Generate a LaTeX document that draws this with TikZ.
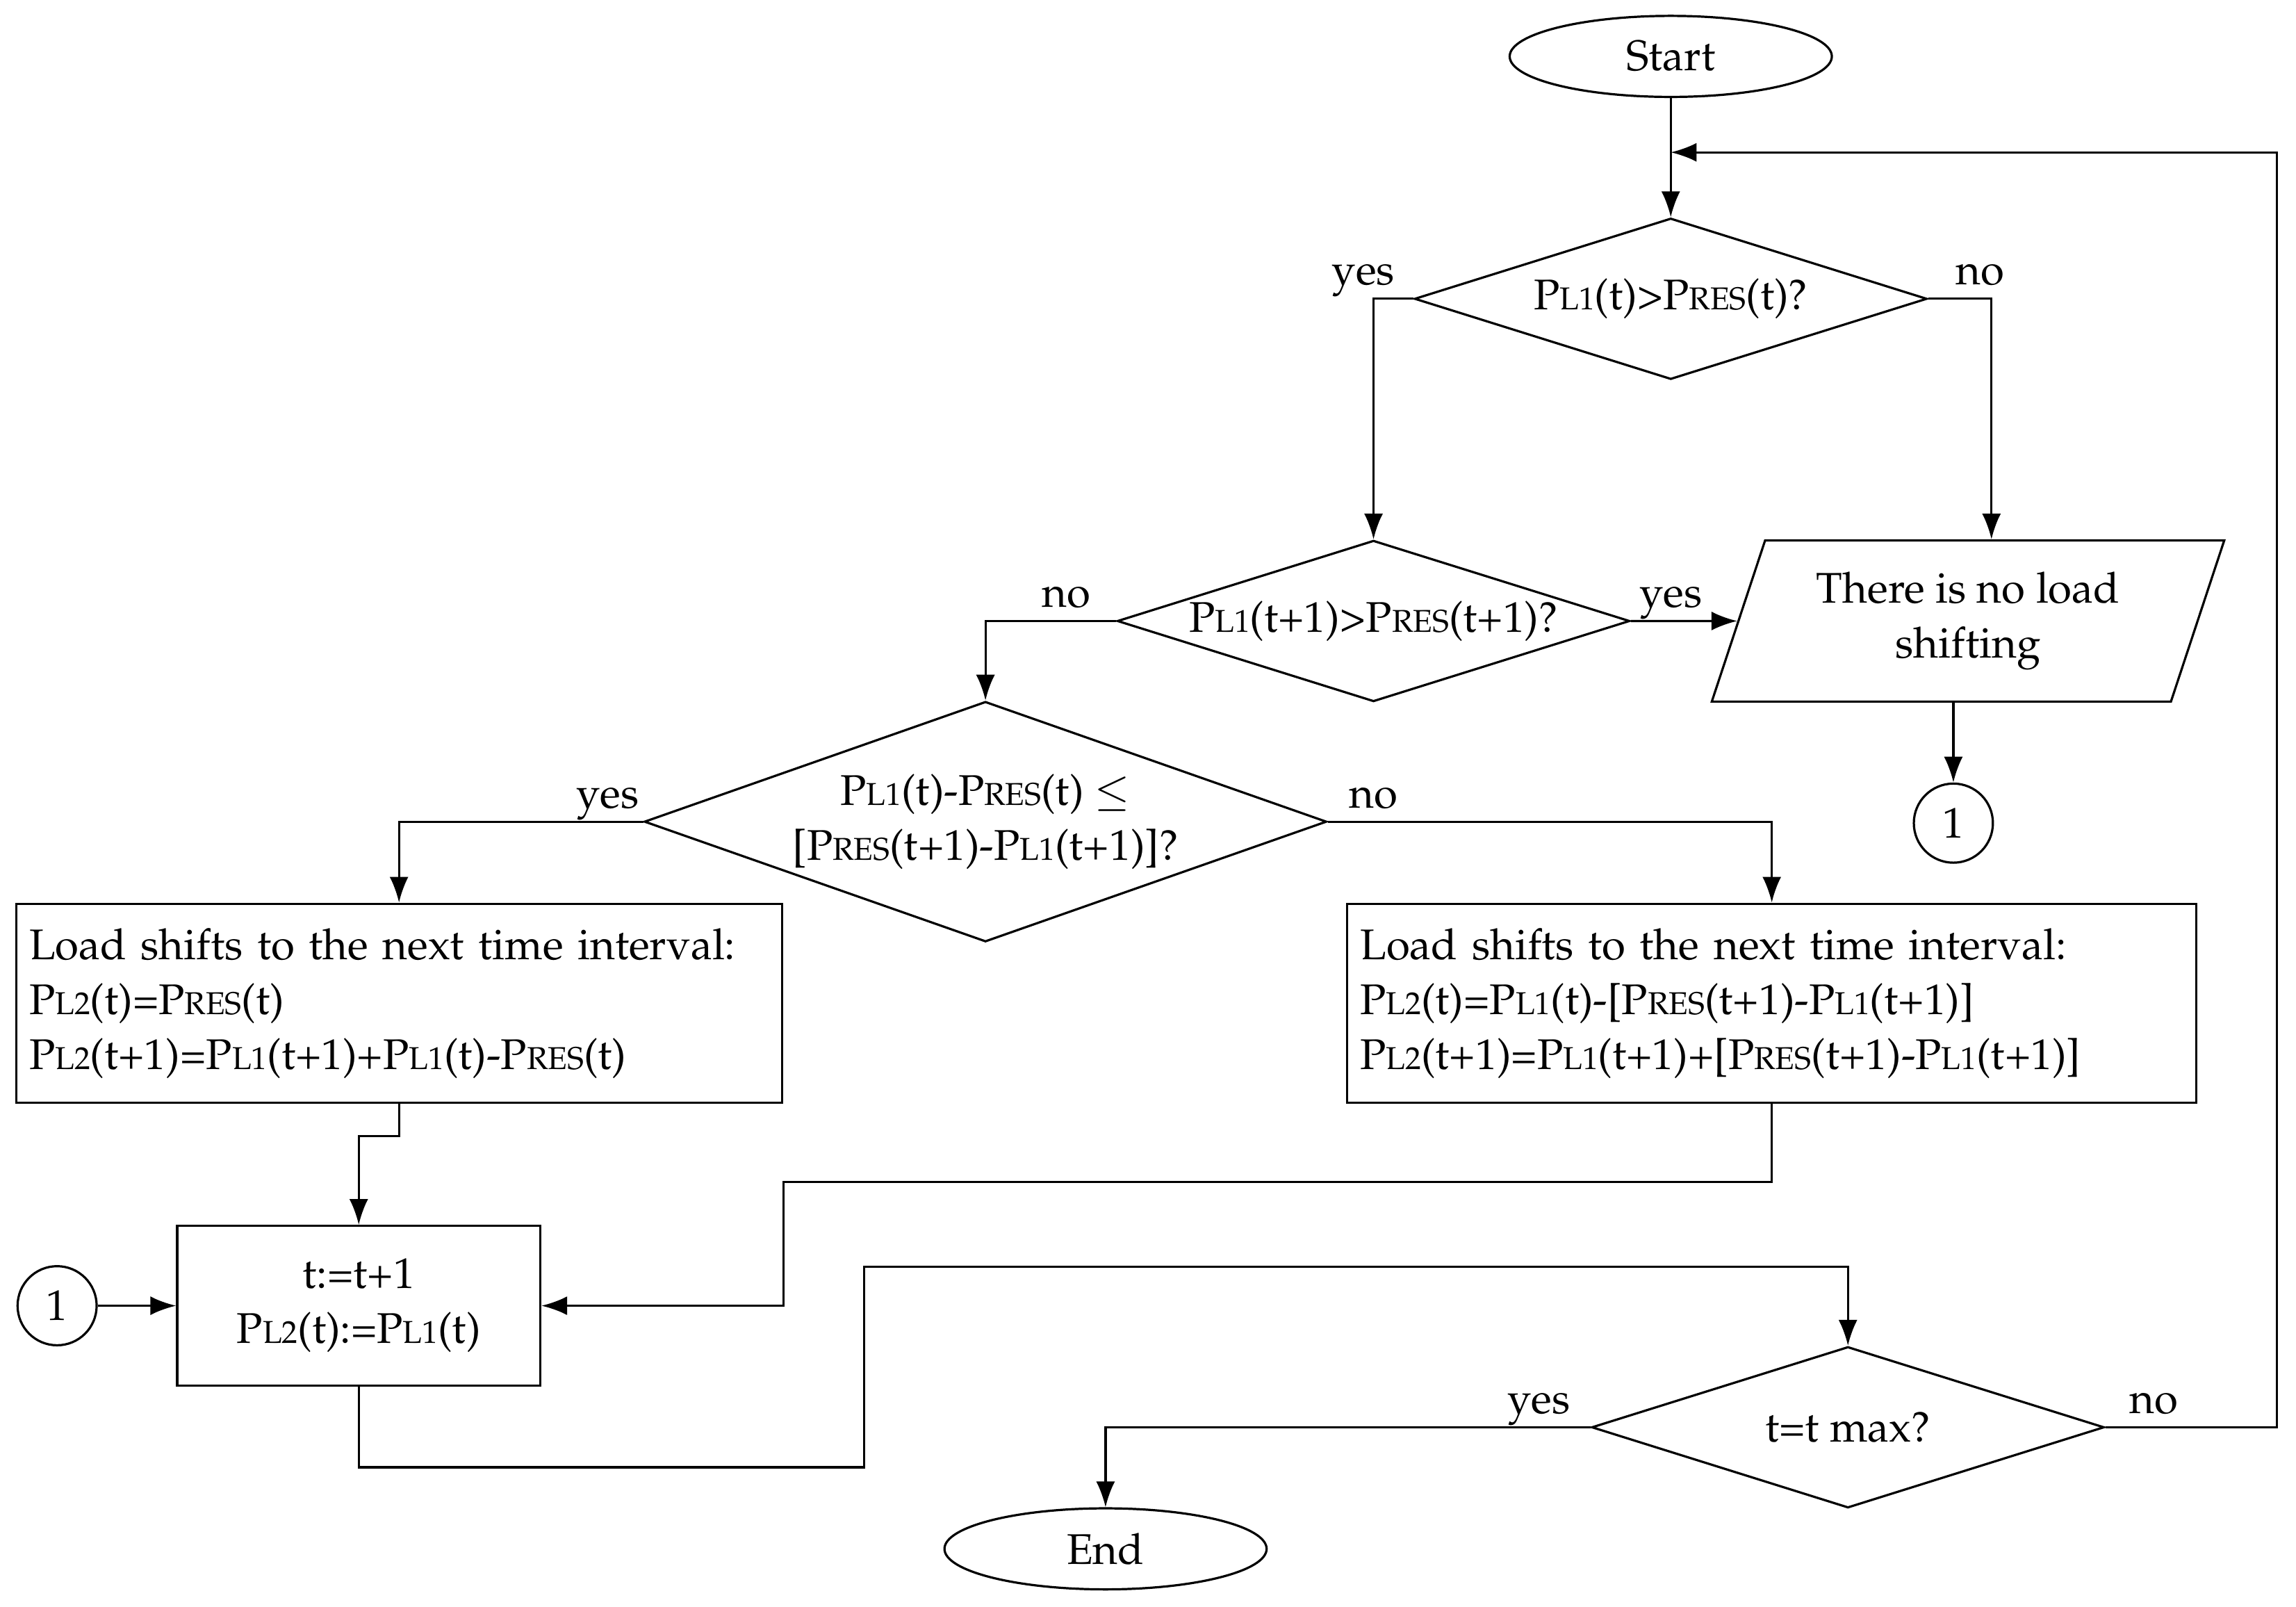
\documentclass[tikz,border=0pt]{standalone}
\usepackage[T1]{fontenc}
\usepackage{mathpazo}
\usetikzlibrary{shapes.geometric,arrows.meta}
\newcommand{\smidx}[1]{{\fontsize{9.2}{10}\selectfont #1}}

\begin{document}
\begin{tikzpicture}[x=0.015cm,y=-0.015cm,line width=0.65pt]
  \tikzset{
    every node/.style={font=\fontsize{12.5}{16}\selectfont},
    term/.style={draw,ellipse,minimum width=3.3cm,minimum height=0.83cm,inner sep=0pt},
    dec/.style={draw,diamond,aspect=3.2,inner sep=0pt,minimum width=5.25cm,minimum height=1.65cm},
    io/.style={draw,trapezium,trapezium left angle=70.5,trapezium right angle=109.5,
      trapezium stretches=true,minimum width=5.25cm,minimum height=1.65cm,align=center},
    proc/.style={draw,rectangle,inner xsep=0.135cm,inner ysep=0pt,align=left},
    conn/.style={draw,circle,minimum size=0.81cm,inner sep=0pt},
    lbl/.style={anchor=base,inner sep=0pt},
    arr/.style={-{Latex[length=7.5pt,width=5.5pt]}}}
  \useasboundingbox (0,0) rectangle (1568,1097.2);

      \node[term](start) at (1141,38.5){Start};
      \node[dec](d1) at (1141,204){P\smidx{L1}(t)>P\smidx{RES}(t)?};
      \node[dec](d2) at (938,424){P\smidx{L1}(t+1)>P\smidx{RES}(t+1)?};
      \node[io](io) at (1344,424){There is no load\\shifting};
      \node[conn](c1) at (1334,562){1};
      \node[dec,aspect=2.84,minimum width=6.99cm,minimum height=2.46cm,align=center](d3) at (673,561)
        {P\smidx{L1}(t)-P\smidx{RES}(t) $\leq$\\{}[P\smidx{RES}(t+1)-P\smidx{L1}(t+1)]?};
      \node[proc,minimum width=7.845cm,text width=7.575cm,minimum height=2.04cm](bl) at (272.5,685)
        {Load shifts to the next time interval:\\P\smidx{L2}(t)=P\smidx{RES}(t)\\P\smidx{L2}(t+1)=P\smidx{L1}(t+1)+P\smidx{L1}(t)-P\smidx{RES}(t)};
      \node[proc,minimum width=8.7cm,text width=8.43cm,minimum height=2.04cm](br) at (1210,685)
        {Load shifts to the next time interval:\\P\smidx{L2}(t)=P\smidx{L1}(t)-[P\smidx{RES}(t+1)-P\smidx{L1}(t+1)]\\P\smidx{L2}(t+1)=P\smidx{L1}(t+1)+[P\smidx{RES}(t+1)-P\smidx{L1}(t+1)]};
      \node[proc,align=center,minimum width=3.72cm,minimum height=1.635cm](bt) at (245,891.5)
        {t:=t+1\\P\smidx{L2}(t):=P\smidx{L1}(t)};
      \node[conn](c2) at (39,891.5){1};
      \node[dec](d4) at (1262,974.5){t=t max?};
      \node[term](end) at (755,1057.5){End};

      \coordinate(k1) at (535,807);
      \coordinate(k2) at (590,865);
      \coordinate(k3) at (1555,104);

      \draw[arr](start)--(d1);
      \draw[arr](d1.west)-|(d2.north);
      \draw[arr](d1.east)-|([xshift=0.24cm]io.north);
      \draw[arr](d2.east)--(io.west);
      \draw[arr](d2.west)-|(d3.north);
      \draw[arr](io.south -| c1)--(c1);
      \draw[arr](d3.west)-|(bl.north);
      \draw[arr](d3.east)-|(br.north);
      \draw[arr](bl.south)--++(0,22)-|(bt.north);
      \draw[arr](br.south)|-(k1)|-(bt.east);
      \draw[arr](c2)--(bt.west);
      \draw[arr](bt.south)--++(0,55)-|(k2)-|(d4.north);
      \draw[arr](d4.west)-|(end.north);
      \draw[arr](d4.east)-|(k3)--(start|-k3);

  \node[lbl](y1) at (931,194.5){yes};
  \node[lbl](n1) at (1352,194.5){no};
  \node[lbl](y2) at (1141,414.5){yes};
  \node[lbl](n2) at (728,414.5){no};
  \node[lbl](y3) at (415,551.5){yes};
  \node[lbl](n3) at (938,551.5){no};
  \node[lbl](y4) at (1051,965){yes};
  \node[lbl](n4) at (1471,965){no};

\end{tikzpicture}
\end{document}
